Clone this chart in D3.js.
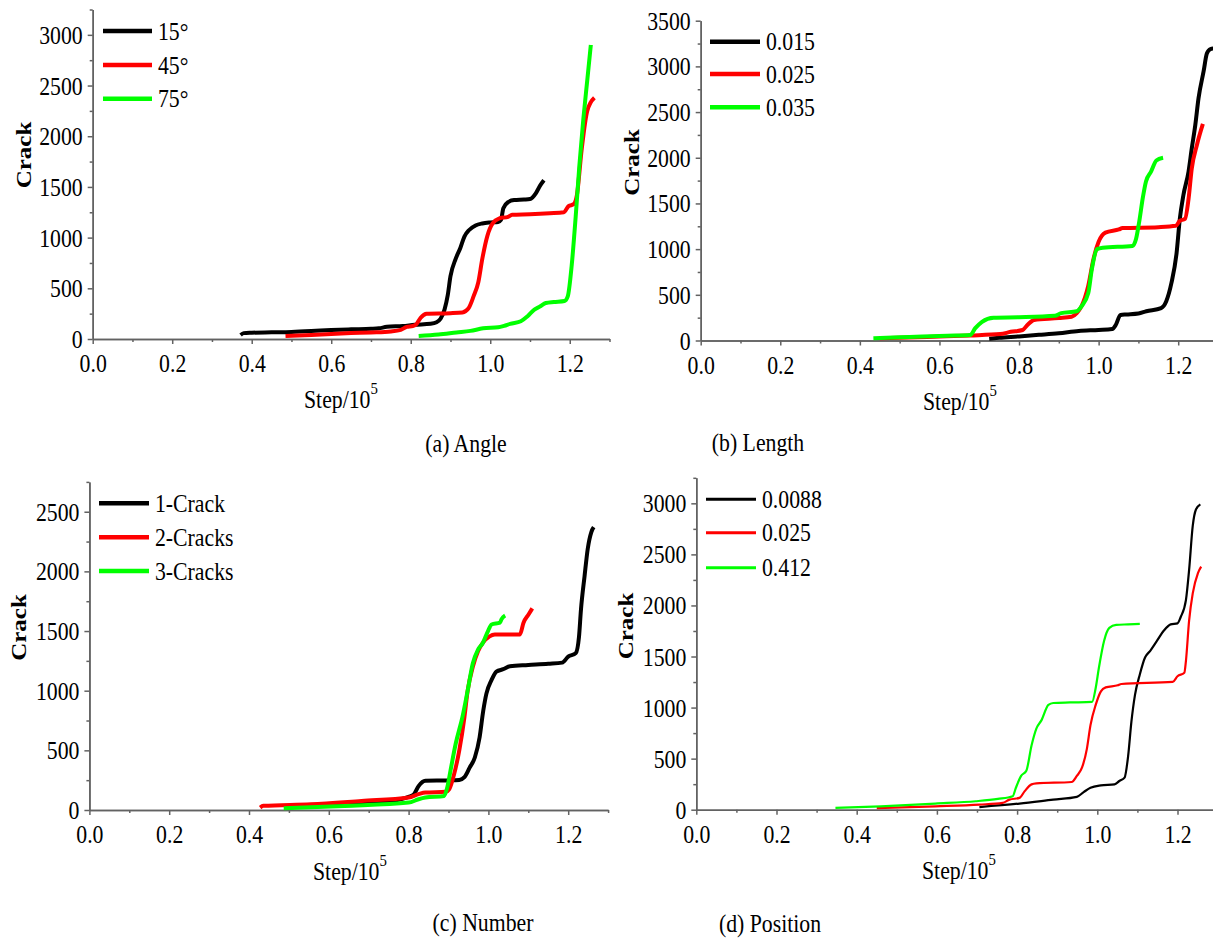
<!DOCTYPE html>
<html>
<head>
<meta charset="utf-8">
<script src="https://cdn.jsdelivr.net/npm/d3@7"></script>
<style>
  body { margin: 0; background: #fff; }
</style>
</head>
<body>
<script>
// ---- data (x in 10^5 steps, y = crack count) ----

// (a) Angle
const angleLabels = ["15°", "45°", "75°"];
const angle15 = [[0.372,40],[0.38,58],[0.40,62],[0.45,66],[0.50,70],[0.55,78],[0.60,88],[0.65,95],[0.70,100],[0.72,105],[0.74,120],[0.78,128],[0.81,140],[0.85,150],[0.865,165],[0.875,200],[0.885,290],[0.893,430],[0.90,620],[0.913,790],[0.925,900],[0.935,1010],[0.947,1075],[0.963,1120],[0.98,1140],[1.0,1150],[1.02,1155],[1.027,1175],[1.033,1290],[1.045,1350],[1.06,1370],[1.085,1375],[1.10,1380],[1.115,1440],[1.125,1510],[1.135,1565]];
const angle45 = [[0.485,30],[0.55,40],[0.60,50],[0.65,58],[0.70,65],[0.75,75],[0.775,90],[0.79,120],[0.805,128],[0.815,150],[0.825,210],[0.84,250],[0.90,255],[0.93,262],[0.945,300],[0.958,420],[0.97,560],[0.98,790],[0.993,1020],[1.006,1140],[1.023,1190],[1.045,1205],[1.055,1225],[1.10,1230],[1.15,1240],[1.185,1250],[1.197,1310],[1.21,1330],[1.218,1420],[1.23,1870],[1.244,2250],[1.262,2380]];
const angle75 = [[0.82,30],[0.87,45],[0.915,65],[0.95,80],[0.982,105],[1.02,115],[1.035,130],[1.05,150],[1.077,175],[1.094,225],[1.111,290],[1.125,320],[1.14,355],[1.16,365],[1.187,375],[1.195,420],[1.205,730],[1.215,1210],[1.224,1700],[1.234,2160],[1.244,2550],[1.253,2900]];

// (b) Length
const lengthLabels = ["0.015", "0.025", "0.035"];
const len015 = [[0.725,20],[0.75,30],[0.80,45],[0.85,62],[0.90,80],[0.95,105],[1.0,115],[1.034,125],[1.043,170],[1.055,280],[1.07,285],[1.10,295],[1.12,320],[1.157,355],[1.17,430],[1.183,630],[1.196,960],[1.204,1330],[1.213,1590],[1.226,1850],[1.234,2100],[1.243,2360],[1.251,2650],[1.264,2950],[1.272,3140],[1.281,3190],[1.294,3200]];
const len025 = [[0.45,25],[0.50,30],[0.60,44],[0.677,55],[0.753,70],[0.779,95],[0.809,115],[0.821,170],[0.838,225],[0.90,245],[0.932,260],[0.945,300],[0.957,375],[0.974,600],[0.987,890],[1.0,1080],[1.017,1180],[1.051,1215],[1.06,1230],[1.15,1240],[1.194,1255],[1.204,1310],[1.217,1330],[1.226,1550],[1.234,1880],[1.247,2140],[1.262,2370]];
const len035 = [[0.434,25],[0.50,35],[0.557,44],[0.62,52],[0.677,60],[0.69,135],[0.707,205],[0.736,250],[0.80,255],[0.89,270],[0.906,300],[0.945,320],[0.957,375],[0.974,520],[0.983,780],[0.996,1000],[1.01,1015],[1.085,1035],[1.094,1110],[1.102,1300],[1.111,1560],[1.119,1740],[1.132,1850],[1.145,1970],[1.162,2000]];

// (c) Number
const numberLabels = ["1-Crack", "2-Cracks", "3-Cracks"];
const num1 = [[0.49,20],[0.60,40],[0.70,60],[0.78,90],[0.80,110],[0.813,130],[0.825,200],[0.842,245],[0.90,248],[0.927,252],[0.94,275],[0.953,355],[0.966,440],[0.978,610],[0.987,830],[0.995,975],[1.008,1090],[1.02,1160],[1.037,1180],[1.054,1205],[1.10,1215],[1.15,1225],[1.185,1235],[1.2,1285],[1.219,1315],[1.227,1450],[1.232,1680],[1.241,1960],[1.249,2190],[1.258,2330],[1.264,2370]];
const num2 = [[0.428,20],[0.436,35],[0.555,48],[0.682,76],[0.80,104],[0.825,133],[0.842,147],[0.893,152],[0.902,175],[0.914,300],[0.927,500],[0.94,780],[0.948,1000],[0.961,1200],[0.974,1330],[0.986,1400],[1.003,1455],[1.016,1470],[1.079,1472],[1.088,1570],[1.101,1640],[1.11,1690]];
const num3 = [[0.487,14],[0.64,34],[0.80,62],[0.825,90],[0.842,104],[0.889,118],[0.897,190],[0.905,330],[0.918,555],[0.935,780],[0.948,1000],[0.961,1230],[0.974,1345],[0.986,1400],[0.999,1500],[1.008,1555],[1.029,1570],[1.033,1600],[1.042,1630]];

// (d) Position
const positionLabels = ["0.0088", "0.025", "0.412"];
const pos0088 = [[0.706,26],[0.806,60],[0.89,99],[0.949,126],[0.966,172],[0.983,215],[1.009,238],[1.043,248],[1.055,281],[1.068,314],[1.077,530],[1.085,860],[1.094,1125],[1.106,1324],[1.119,1490],[1.132,1556],[1.149,1655],[1.166,1754],[1.183,1815],[1.2,1825],[1.208,1887],[1.221,2052],[1.229,2350],[1.238,2780],[1.246,2940],[1.257,2990]];
const pos025 = [[0.45,15],[0.596,33],[0.706,50],[0.764,66],[0.781,99],[0.806,116],[0.819,182],[0.836,248],[0.848,258],[0.936,271],[0.949,331],[0.962,414],[0.974,596],[0.983,828],[0.996,1026],[1.009,1159],[1.021,1198],[1.051,1218],[1.06,1231],[1.188,1251],[1.2,1307],[1.217,1341],[1.221,1456],[1.229,1854],[1.238,2118],[1.251,2317],[1.259,2380]];
const pos412 = [[0.347,17],[0.46,33],[0.596,60],[0.697,83],[0.752,106],[0.789,132],[0.797,215],[0.81,331],[0.823,381],[0.836,629],[0.848,794],[0.861,877],[0.878,1026],[0.89,1045],[0.932,1050],[0.987,1055],[0.996,1192],[1.004,1390],[1.017,1655],[1.03,1780],[1.047,1810],[1.077,1815],[1.106,1820]];

const xMajorTicks = [0, 0.2, 0.4, 0.6, 0.8, 1.0, 1.2];
const xMinorTicks = [0.1, 0.3, 0.5, 0.7, 0.9, 1.1, 1.3];
const seriesColors = ["#000000", "#ff0000", "#00ff00"];

const FONT = "'Liberation Serif', 'Times New Roman', serif";
const SQ = 0.87;          // the figure's glyphs are a little narrow
const AXIS = "#626262";

const svg = d3.select("body").append("svg")
    .attr("width", 1213)
    .attr("height", 939)
    .style("font-family", FONT);

// layout of the four panels (pixel positions only)
const panels = [
    { series: [angle15, angle45, angle75], labels: angleLabels, yMax: 3250, yTop: 3000,
      px: [92.7, 609.5], py: [339, 9.5], lw: 4, legW: 4.5,
      leg: { x1: 103, x2: 152, ys: [31, 65, 98.7], tx: 158 },
      crack: [23, 155], step: [304, 408], caption: [466, 452, "(a) Angle"] },
    { series: [len015, len025, len035], labels: lengthLabels, yMax: 3500, yTop: 3500,
      px: [700.7, 1218], py: [340.5, 20.7], lw: 4, legW: 4.5,
      leg: { x1: 710, x2: 760, ys: [41.7, 74, 107.3], tx: 766 },
      crack: [631, 162.5], step: [923, 410], caption: [758, 451, "(b) Length"] },
    { series: [num1, num2, num3], labels: numberLabels, yMax: 2750, yTop: 2500,
      px: [89.4, 608.1], py: [810, 481.9], lw: 4, legW: 4.5,
      leg: { x1: 99, x2: 149, ys: [503.3, 537.3, 571], tx: 155 },
      crack: [18, 627.5], step: [313, 880], caption: [483, 931, "(c) Number"] },
    { series: [pos0088, pos025, pos412], labels: positionLabels, yMax: 3250, yTop: 3000,
      px: [696.3, 1217.6], py: [809.7, 477.8], lw: 2.2, legW: 3,
      leg: { x1: 706, x2: 756, ys: [499.3, 532.7, 567.7], tx: 762 },
      crack: [625, 626], step: [922, 879], caption: [770, 932, "(d) Position"] }
];

// text with narrow glyphs
function squeezed(parent, x, y, str, size) {
    return parent.append("text")
        .attr("transform", `translate(${x},${y}) scale(${SQ},1)`)
        .style("font-family", FONT)
        .attr("font-size", size)
        .text(str);
}

panels.forEach(p => {
    const g = svg.append("g");

    const x = d3.scaleLinear().domain([0, 1.3]).range(p.px);
    const y = d3.scaleLinear().domain([0, p.yMax]).range(p.py);

    const yMajor = d3.range(0, p.yTop + 1, 500);
    const yMinor = d3.range(250, p.yMax + 1, 500);

    // minor ticks first, then the main axes over them
    g.append("g")
        .attr("transform", `translate(0,${p.py[0]})`)
        .call(d3.axisBottom(x).tickValues(xMinorTicks).tickSize(3).tickSizeOuter(0).tickFormat(""));
    g.append("g")
        .attr("transform", `translate(${p.px[0]},0)`)
        .call(d3.axisLeft(y).tickValues(yMinor).tickSize(3).tickSizeOuter(0).tickFormat(""));

    const xAxis = g.append("g")
        .attr("transform", `translate(0,${p.py[0]})`)
        .call(d3.axisBottom(x).tickValues(xMajorTicks).tickSize(5).tickSizeOuter(0).tickFormat(d3.format(".1f")));
    xAxis.selectAll("text")
        .attr("y", null).attr("dy", null)
        .attr("transform", `translate(0,33) scale(${SQ},1)`);

    const yAxis = g.append("g")
        .attr("transform", `translate(${p.px[0]},0)`)
        .call(d3.axisLeft(y).tickValues(yMajor).tickSize(5).tickSizeOuter(0).tickFormat(d3.format("d")));
    yAxis.selectAll("text")
        .attr("x", null)
        .attr("dy", "0.34em")
        .attr("transform", `translate(-10,0) scale(${SQ},1)`);

    g.selectAll(".tick text")
        .attr("font-size", 25)
        .style("font-family", FONT)
        .attr("fill", "#000");
    g.selectAll(".domain, .tick line")
        .attr("stroke", AXIS)
        .attr("stroke-width", 1.5);

    // the data lines
    const line = d3.line()
        .x(d => x(d[0]))
        .y(d => y(d[1]))
        .curve(d3.curveMonotoneX);

    g.selectAll(".series")
        .data(p.series)
        .enter()
        .append("path")
        .attr("class", "series")
        .attr("d", line)
        .attr("fill", "none")
        .attr("stroke", (d, i) => seriesColors[i])
        .attr("stroke-width", p.lw)
        .attr("stroke-linejoin", "round")
        .attr("stroke-linecap", "butt");

    // legend
    p.labels.forEach((lab, i) => {
        g.append("line")
            .attr("x1", p.leg.x1).attr("x2", p.leg.x2)
            .attr("y1", p.leg.ys[i]).attr("y2", p.leg.ys[i])
            .attr("stroke", seriesColors[i])
            .attr("stroke-width", p.legW);
        squeezed(g, p.leg.tx, p.leg.ys[i], lab, 25).attr("dy", "0.34em");
    });

    // axis titles
    g.append("text")
        .attr("transform", `translate(${p.crack[0]},${p.crack[1]}) rotate(-90) scale(1,${SQ})`)
        .attr("text-anchor", "middle")
        .attr("dy", "0.35em")
        .attr("font-size", 25)
        .attr("font-weight", "bold")
        .style("font-family", FONT)
        .text("Crack");

    const st = squeezed(g, p.step[0], p.step[1], "Step/10", 25);
    st.append("tspan")
        .attr("dy", -14)
        .attr("font-size", 17)
        .text("5");

    squeezed(g, p.caption[0], p.caption[1], p.caption[2], 25)
        .attr("text-anchor", "middle");
});
</script>
</body>
</html>
